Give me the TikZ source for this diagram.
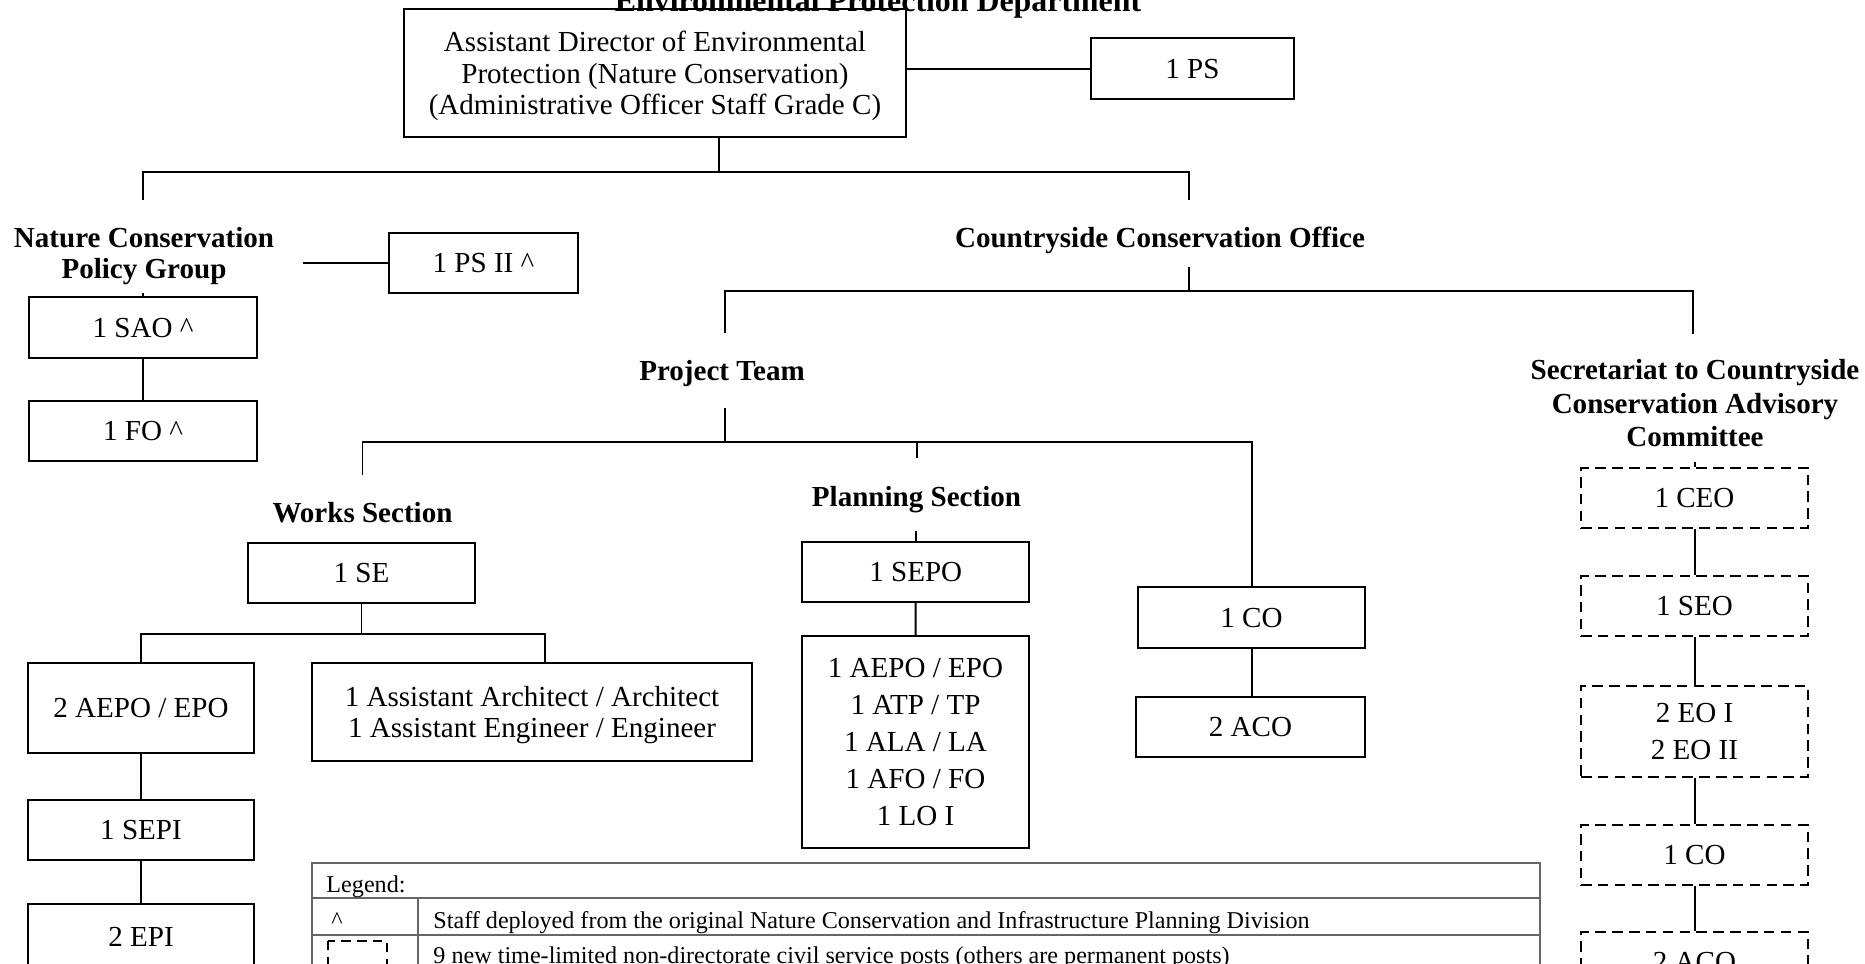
\documentclass[tikz,border=0pt]{standalone}
\usepackage{fontspec}
\setmainfont{Liberation Serif}
\tikzset{
  post/.style={draw, line width=0.85pt, align=center, inner sep=0pt, text depth=0pt},
  newpost/.style={post, dash pattern=on 4.5pt off 2.7pt},
  unit/.style={font=\bfseries, align=center, inner sep=0pt, text depth=0pt},
  link/.style={line width=0.85pt},
  legline/.style={line width=0.6pt, black!60},
  legtext/.style={font=\fontsize{10.3}{12}\selectfont, inner sep=0pt, anchor=base west}
}
\begin{document}
\fontsize{12.4}{13.5}\selectfont
\begin{tikzpicture}[x=0.015cm, y=-0.015cm]
    \useasboundingbox (0,0) rectangle (1865,963);
    \clip (0,0) rectangle (1865,963);
    \fill[white] (0,0) rectangle (1865,963);

    % Department and head of division
    \node[unit, font={\fontsize{13.6}{15}\selectfont\bfseries}, anchor=base] (dept) at (878,11) {Environmental Protection Department};
    \node[post, minimum width=7.53cm, minimum height=1.92cm] (head) at (655,73) {Assistant Director of Environmental\\Protection (Nature Conservation)\\(Administrative Officer Staff Grade C)};
    \node[post, minimum width=3.045cm, minimum height=0.915cm] (ps) at (1192.5,68.5) {1 PS};
    \draw[link] (ps.west) -- (ps.west -| head.east);

    % Branch to the two units
    \coordinate (busA) at (719,172);
    \coordinate (busAl) at (143,200);
    \coordinate (busAr) at (1189,200);
    \draw[link] (head.south -| busA) -- (busA);
    \draw[link] (busAl) |- (busA) -| (busAr);

    % Nature Conservation Policy Group
    \node[unit, font={\fontsize{12.4}{13.2}\selectfont\bfseries}] (ncpg) at (144,252.5) {Nature Conservation\\Policy Group};
    \node[post, minimum width=2.835cm, minimum height=0.9cm] (psii) at (483.5,263) {1 PS II \textasciicircum};
    \coordinate (psiil) at (303,263);
    \draw[link] (psiil) -- (psii.west);
    \node[post, minimum width=3.42cm, minimum height=0.915cm] (sao) at (143,327.5) {1 SAO \textasciicircum};
    \node[post, minimum width=3.42cm, minimum height=0.9cm] (fo) at (143,431) {1 FO \textasciicircum};
    \draw[link] (sao.north) -- ++(0,-3);
    \draw[link] (sao) -- (fo);

    % Countryside Conservation Office
    \node[unit] (cco) at (1160,237) {Countryside Conservation Office};
    \coordinate (cco0) at (1189,267);
    \coordinate (busB) at (1189,291);
    \coordinate (busBl) at (724.5,333);
    \coordinate (busBr) at (1693,334);
    \draw[link] (cco0) -- (busB);
    \draw[link] (busBl) |- (busB) -| (busBr);

    % Project Team
    \node[unit] (pt) at (722,370) {Project Team};
    \coordinate (pt0) at (724.5,408);
    \coordinate (busC) at (724.5,442);
    \coordinate (busCl) at (362.5,475);
    \coordinate (busCm) at (916.5,458);
    \draw[link] (pt0) -- (busC);
    \node[post, minimum width=3.405cm, minimum height=0.915cm] (co) at (1251.5,617.5) {1 CO};
    \node[post, minimum width=3.435cm, minimum height=0.9cm] (aco) at (1250.5,727) {2 ACO};
    \draw[link] (busCl) |- (busC) -| (co.north);
    \draw[link] (busCm) -- (busCm |- busC);
    \draw[link] (co.south) -- (co.south |- aco.north);

    % Works Section
    \node[unit] (works) at (362.5,512) {Works Section};
    \node[post, minimum width=3.405cm, minimum height=0.9cm] (se) at (361.5,573) {1 SE};
    \node[post, minimum width=3.4cm, minimum height=1.35cm] (aepo) at (141,708) {2 AEPO / EPO};
    \node[post, minimum width=6.585cm, minimum height=1.47cm] (arch) at (532,712) {1 Assistant Architect / Architect\\1 Assistant Engineer / Engineer};
    \coordinate (busD) at (362.5,634);
    \draw[link] (se.south) -- (se.south |- busD);
    \draw[link] (aepo.north) |- (busD) -| ([xshift=0.19cm]arch.north);
    \node[post, minimum width=3.4cm, minimum height=0.9cm] (sepi) at (141,830) {1 SEPI};
    \node[post, minimum width=3.4cm, minimum height=0.99cm] (epi) at (141,937) {2 EPI};
    \foreach \a/\b in {aepo/sepi, sepi/epi}
        \draw[link] (\a) -- (\b);

    % Planning Section
    \node[unit] (plan) at (916.5,496) {Planning Section};
    \node[post, minimum width=3.41cm, minimum height=0.9cm] (sepo) at (915.75,572) {1 SEPO};
    \node[post, minimum width=3.405cm, minimum height=3.18cm, font={\fontsize{12.4}{15.8}\selectfont}] (plist) at (915.5,742) {1 AEPO / EPO\\1 ATP / TP\\1 ALA / LA\\1 AFO / FO\\1 LO I};
    \draw[link] (sepo.north) -- ++(0,-10);
    \draw[link] (sepo) -- (plist);

    % Secretariat (time-limited posts)
    \node[unit, font={\fontsize{12.4}{14.3}\selectfont\bfseries}] (sec) at (1695,403) {Secretariat to Countryside\\Conservation Advisory\\Committee};
    \node[newpost, minimum width=3.405cm, minimum height=0.9cm] (ceo) at (1694.5,498) {1 CEO};
    \node[newpost, minimum width=3.405cm, minimum height=0.9cm] (seo) at (1694.5,606) {1 SEO};
    \node[newpost, minimum width=3.405cm, minimum height=1.365cm, font={\fontsize{12.4}{15.8}\selectfont}] (eo) at (1694.5,731.5) {2 EO I\\2 EO II};
    \node[newpost, minimum width=3.405cm, minimum height=0.9cm] (dco) at (1694.5,855) {1 CO};
    \node[newpost, minimum width=3.405cm, minimum height=0.9cm] (daco) at (1694.5,962) {2 ACO};
    \draw[link] (ceo.north) -- ++(0,-5);
    \foreach \a/\b in {ceo/seo, seo/eo, eo/dco, dco/daco}
        \draw[link] (\a) -- (\b);

    % Legend
    \draw[legline] (312,863) rectangle (1540,975);
    \draw[legline] (312,898) -- (1540,898);
    \draw[legline] (312,935) -- (1540,935);
    \draw[legline] (418,898) -- (418,975);
    \node[legtext] (legend) at (326,892) {Legend:};
    \node[legtext] (caret) at (331,928) {\textasciicircum};
    \node[legtext] (deployed) at (433,928) {Staff deployed from the original Nature Conservation and Infrastructure Planning Division};
    \draw[line width=1.2pt, dash pattern=on 4pt off 2.8pt] (328,941) rectangle (387,965);
    \node[legtext] (newposts) at (433,963) {9 new time-limited non-directorate civil service posts (others are permanent posts)};

\end{tikzpicture}
\end{document}
